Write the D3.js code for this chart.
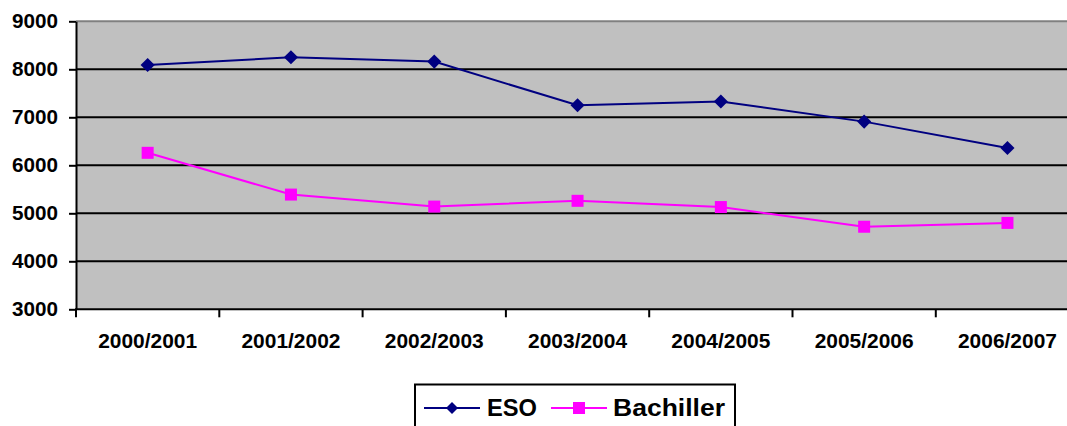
<!DOCTYPE html>
<html>
<head>
<meta charset="utf-8">
<script src="https://cdn.jsdelivr.net/npm/d3@7"></script>
<style>
  body { margin: 0; background: #fff; }
  svg { display: block; font-family: "Liberation Sans", Arial, sans-serif; }
</style>
</head>
<body>
<div id="chart"></div>
<script>
// data
var years = ["2000/2001", "2001/2002", "2002/2003", "2003/2004", "2004/2005", "2005/2006", "2006/2007"];
var esoValues = [8090, 8250, 8160, 7250, 7330, 6910, 6360];
var bachillerValues = [6260, 5390, 5140, 5260, 5130, 4720, 4800];
var yTicks = [3000, 4000, 5000, 6000, 7000, 8000, 9000];
var seriesNames = ["ESO", "Bachiller"];

var width = 1067, height = 426;
var plotLeft = 76, plotTop = 21.3, plotBottom = 309.3, bandW = 143.3;

var svg = d3.select("#chart").append("svg")
    .attr("width", width)
    .attr("height", height);

var x = d3.scaleBand()
    .domain(years)
    .range([plotLeft, plotLeft + bandW * years.length]);

var y = d3.scaleLinear()
    .domain([3000, 9000])
    .range([plotBottom, plotTop]);

// plot background
svg.append("rect")
    .attr("x", plotLeft)
    .attr("y", plotTop)
    .attr("width", bandW * years.length)
    .attr("height", plotBottom - plotTop)
    .attr("fill", "#c0c0c0");

// gridlines
svg.append("g").selectAll("line")
    .data(yTicks.filter(d => d > 3000 && d < 9000))
    .enter().append("line")
    .attr("x1", plotLeft)
    .attr("x2", plotLeft + bandW * years.length)
    .attr("y1", d => y(d))
    .attr("y2", d => y(d))
    .attr("stroke", "#000")
    .attr("stroke-width", 2);

// top border
svg.append("line")
    .attr("x1", plotLeft).attr("x2", width)
    .attr("y1", y(9000)).attr("y2", y(9000))
    .attr("stroke", "#808080").attr("stroke-width", 2);

// y axis
var yAxis = svg.append("g")
    .attr("transform", "translate(" + plotLeft + ",0)")
    .call(d3.axisLeft(y).tickValues(yTicks).tickFormat(d3.format("d"))
      .tickSize(7).tickPadding(11).tickSizeOuter(0));
yAxis.select(".domain").attr("stroke", "#000").attr("stroke-width", 2);
yAxis.selectAll(".tick line").attr("stroke", "#000").attr("stroke-width", 2);
yAxis.selectAll(".tick text")
    .attr("font-size", 20)
    .attr("font-weight", "bold")
    .attr("fill", "#000")
    .attr("font-family", "Liberation Sans, Arial, sans-serif")
    .attr("textLength", 46)
    .attr("lengthAdjust", "spacingAndGlyphs");

// x axis line + ticks at band boundaries
svg.append("line")
    .attr("x1", plotLeft - 1).attr("x2", width)
    .attr("y1", plotBottom).attr("y2", plotBottom)
    .attr("stroke", "#000").attr("stroke-width", 2);

var bounds = years.map(d => x(d)).concat([x(years[years.length - 1]) + bandW]);
svg.append("g").selectAll("line")
    .data(bounds)
    .enter().append("line")
    .attr("x1", d => d).attr("x2", d => d)
    .attr("y1", plotBottom).attr("y2", plotBottom + 8)
    .attr("stroke", "#000").attr("stroke-width", 2);

svg.append("g").selectAll("text")
    .data(years)
    .enter().append("text")
    .attr("x", d => x(d) + bandW / 2)
    .attr("y", 347.5)
    .attr("text-anchor", "middle")
    .attr("font-size", 20)
    .attr("font-weight", "bold")
    .attr("textLength", 99)
    .attr("lengthAdjust", "spacingAndGlyphs")
    .text(d => d);

// lines
var line = d3.line()
    .x((d, i) => x(years[i]) + bandW / 2)
    .y(d => y(d));

svg.append("path")
    .datum(esoValues)
    .attr("d", line)
    .attr("fill", "none")
    .attr("stroke", "#000080")
    .attr("stroke-width", 2);

svg.append("path")
    .datum(bachillerValues)
    .attr("d", line)
    .attr("fill", "none")
    .attr("stroke", "#ff00ff")
    .attr("stroke-width", 2);

var diamond = d3.symbol().type(d3.symbolSquare).size(100);

svg.append("g").selectAll("path")
    .data(esoValues)
    .enter().append("path")
    .attr("d", diamond)
    .attr("transform", (d, i) => "translate(" + (x(years[i]) + bandW / 2) + "," + y(d) + ") rotate(45)")
    .attr("fill", "#000080");

svg.append("g").selectAll("rect")
    .data(bachillerValues)
    .enter().append("rect")
    .attr("x", (d, i) => x(years[i]) + bandW / 2 - 6)
    .attr("y", d => y(d) - 6)
    .attr("width", 12)
    .attr("height", 12)
    .attr("fill", "#ff00ff");

// legend
var legend = svg.append("g");
legend.append("rect")
    .attr("x", 415).attr("y", 384.5)
    .attr("width", 320).attr("height", 60)
    .attr("fill", "#fff")
    .attr("stroke", "#000")
    .attr("stroke-width", 2);

var legendItems = [
  { name: seriesNames[0], color: "#000080", x0: 424, textX: 487, textW: 50, marker: "diamond" },
  { name: seriesNames[1], color: "#ff00ff", x0: 551, textX: 613, textW: 112, marker: "square" }
];

legendItems.forEach(function (it) {
  legend.append("line")
      .attr("x1", it.x0).attr("x2", it.x0 + 56)
      .attr("y1", 408).attr("y2", 408)
      .attr("stroke", it.color).attr("stroke-width", 2);
  if (it.marker == "diamond") {
    legend.append("path")
        .attr("d", d3.symbol().type(d3.symbolSquare).size(72))
        .attr("transform", "translate(" + (it.x0 + 28) + ",408) rotate(45)")
        .attr("fill", it.color);
  } else {
    legend.append("rect")
        .attr("x", it.x0 + 28 - 6).attr("y", 408 - 6)
        .attr("width", 12).attr("height", 12)
        .attr("fill", it.color);
  }
  legend.append("text")
      .attr("x", it.textX)
      .attr("y", 416)
      .attr("font-size", 23)
      .attr("font-weight", "bold")
      .attr("textLength", it.textW)
      .attr("lengthAdjust", "spacingAndGlyphs")
      .text(it.name);
});
</script>
</body>
</html>
